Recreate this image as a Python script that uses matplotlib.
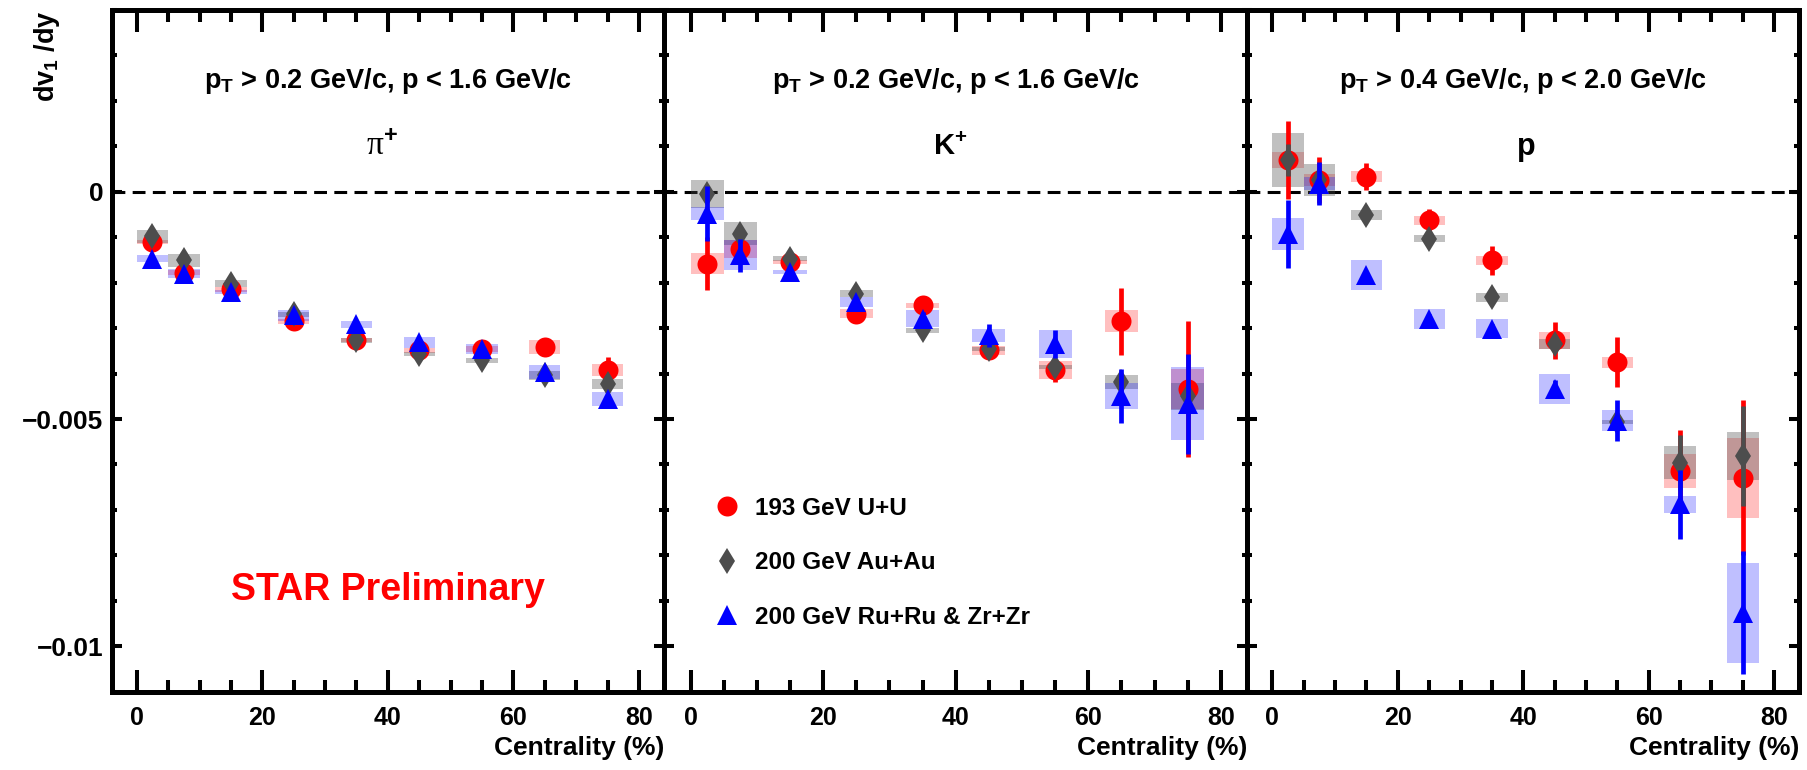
import numpy as np
import matplotlib
matplotlib.use("Agg")
import matplotlib.pyplot as plt
from matplotlib.lines import Line2D
from matplotlib.ticker import MultipleLocator, FixedLocator, FuncFormatter

plt.rcParams['font.family'] = ['Liberation Sans', 'DejaVu Sans']
plt.rcParams['font.weight'] = 'bold'
plt.rcParams['mathtext.fontset'] = 'custom'
plt.rcParams['mathtext.rm'] = 'Liberation Sans:bold'
plt.rcParams['mathtext.bf'] = 'Liberation Sans:bold'
plt.rcParams['mathtext.it'] = 'Liberation Sans:bold:italic'

# ---- data (dv1/dy in units of 1e-3) ----
SCALE = 1e-3
centrality = [2.5, 7.5, 15, 25, 35, 45, 55, 65, 75]

# pi+
pi_uu = [-1.10, -1.78, -2.15, -2.85, -3.26, -3.49, -3.46, -3.42, -3.93]
pi_uu_stat = [0.05, 0.05, 0.05, 0.05, 0.06, 0.06, 0.08, 0.10, 0.30]
pi_uu_sys = [0.05, 0.05, 0.05, 0.05, 0.05, 0.05, 0.06, 0.16, 0.13]
pi_auau = [-0.98, -1.51, -2.02, -2.70, -3.27, -3.57, -3.71, -4.04, -4.23]
pi_auau_stat = [0.05, 0.05, 0.05, 0.05, 0.05, 0.05, 0.05, 0.05, 0.08]
pi_auau_sys = [0.15, 0.15, 0.08, 0.05, 0.05, 0.05, 0.05, 0.10, 0.12]
pi_iso = [-1.47, -1.80, -2.21, -2.72, -2.92, -3.31, -3.46, -3.97, -4.56]
pi_iso_stat = [0.05, 0.05, 0.05, 0.05, 0.05, 0.05, 0.05, 0.05, 0.12]
pi_iso_sys = [0.07, 0.10, 0.05, 0.12, 0.07, 0.12, 0.12, 0.15, 0.15]

# K+
k_uu = [-1.58, -1.25, -1.54, -2.68, -2.50, -3.49, -3.93, -2.85, -4.34]
k_uu_stat = [0.59, 0.20, 0.10, 0.12, 0.15, 0.20, 0.25, 0.74, 1.50]
k_uu_sys = [0.24, 0.20, 0.05, 0.10, 0.05, 0.10, 0.20, 0.24, 0.45]
k_auau = [-0.04, -0.92, -1.47, -2.24, -3.05, -3.46, -3.86, -4.19, -4.50]
k_auau_stat = [0.10, 0.10, 0.05, 0.05, 0.05, 0.05, 0.05, 0.15, 0.30]
k_auau_sys = [0.31, 0.25, 0.06, 0.08, 0.05, 0.05, 0.05, 0.15, 0.30]
k_iso = [-0.48, -1.40, -1.76, -2.43, -2.79, -3.16, -3.35, -4.49, -4.66]
k_iso_stat = [0.60, 0.37, 0.10, 0.12, 0.15, 0.25, 0.30, 0.60, 1.10]
k_iso_sys = [0.15, 0.33, 0.05, 0.11, 0.18, 0.15, 0.31, 0.28, 0.80]

# proton
p_uu = [0.70, 0.26, 0.33, -0.63, -1.51, -3.27, -3.75, -6.14, -6.29]
p_uu_stat = [0.85, 0.50, 0.30, 0.25, 0.32, 0.40, 0.55, 0.90, 1.70]
p_uu_sys = [0.17, 0.13, 0.12, 0.10, 0.10, 0.19, 0.12, 0.37, 0.88]
p_auau = [0.70, 0.26, -0.51, -1.03, -2.32, -3.35, -5.07, -5.96, -5.81]
p_auau_stat = [0.35, 0.15, 0.10, 0.10, 0.10, 0.12, 0.15, 0.60, 1.10]
p_auau_sys = [0.60, 0.35, 0.12, 0.07, 0.10, 0.12, 0.05, 0.37, 0.53]
p_iso = [-0.92, 0.18, -1.84, -2.79, -3.01, -4.34, -5.04, -6.88, -9.26]
p_iso_stat = [0.75, 0.48, 0.10, 0.10, 0.10, 0.20, 0.45, 0.75, 1.36]
p_iso_sys = [0.35, 0.15, 0.33, 0.22, 0.20, 0.33, 0.23, 0.18, 1.10]

systems = ["193 GeV U+U", "200 GeV Au+Au", "200 GeV Ru+Ru & Zr+Zr"]
cuts = [r"p$_\mathrm{T}$ > 0.2 GeV/c, p < 1.6 GeV/c",
        r"p$_\mathrm{T}$ > 0.2 GeV/c, p < 1.6 GeV/c",
        r"p$_\mathrm{T}$ > 0.4 GeV/c, p < 2.0 GeV/c"]
x_ticks = [0, 20, 40, 60, 80]

RED, GRAY, BLUE = "#ff0000", "#4d4d4d", "#0000ff"
styles = [  # marker, size, color, box alpha
    ("o", 14.4, RED, 0.25),
    ("d", 13.6, GRAY, 0.35),
    ("^", 14.4, BLUE, 0.25),
]

panels = [
    ([(pi_uu, pi_uu_stat, pi_uu_sys), (pi_auau, pi_auau_stat, pi_auau_sys),
      (pi_iso, pi_iso_stat, pi_iso_sys)], "pi"),
    ([(k_uu, k_uu_stat, k_uu_sys), (k_auau, k_auau_stat, k_auau_sys),
      (k_iso, k_iso_stat, k_iso_sys)], "K"),
    ([(p_uu, p_uu_stat, p_uu_sys), (p_auau, p_auau_stat, p_auau_sys),
      (p_iso, p_iso_stat, p_iso_sys)], "p"),
]

W, H = 1808, 770
fig = plt.figure(figsize=(W / 100, H / 100), dpi=100)
bottom, height = 78.3 / H, 681.7 / H
rects = [(111.7, 552.3), (664.0, 583.3), (1247.3, 552.0)]
axes = [fig.add_axes([l / W, bottom, w / W, height]) for l, w in rects]


def fmt_y(v, pos):
    if abs(v) < 1e-12:
        return "0"
    return ("%g" % v).replace("-", "\u2212")


for i, (ax, (series, name)) in enumerate(zip(axes, panels)):
    ax.axhline(0, color="black", lw=2.2, ls=(0, (4.2, 2.4)), zorder=0.5)
    for j, ((vals, stat, sys), (mk, ms, col, a)) in enumerate(zip(series, styles)):
        y = np.asarray(vals) * SCALE
        st = np.asarray(stat) * SCALE
        sy = np.asarray(sys) * SCALE
        ax.bar(centrality, 2 * sy, bottom=y - sy, width=5.0, color=col,
               alpha=a, linewidth=0, zorder=1)
        ax.errorbar(centrality, y, yerr=st, fmt=mk, ms=ms, color=col, mew=0,
                    elinewidth=3.4, capsize=0, zorder=2 + j)

    ax.set_xlim(-4, 84)
    ax.set_ylim(-0.011, 0.004)
    ax.xaxis.set_major_locator(FixedLocator(x_ticks))
    ax.xaxis.set_minor_locator(MultipleLocator(5))
    ax.yaxis.set_major_locator(MultipleLocator(0.005))
    ax.yaxis.set_minor_locator(MultipleLocator(0.001))
    ax.yaxis.set_major_formatter(FuncFormatter(fmt_y))
    ax.tick_params(which="both", direction="in", top=True, right=True,
                   width=2.9, labelsize=18, color="black")
    ax.tick_params(axis="x", which="major", length=16, pad=10)
    ax.tick_params(axis="x", which="minor", length=8.5)
    ax.tick_params(axis="y", which="major", length=7.5, pad=6, labelsize=19)
    ax.tick_params(axis="y", which="minor", length=3.5)
    if i > 0:
        ax.tick_params(axis="y", labelleft=False)
    for sp in ax.spines.values():
        sp.set_linewidth(3.6)
    for lab in ax.get_xticklabels() + ax.get_yticklabels():
        lab.set_fontweight("bold")

    ax.text(1.0, -0.083, "Centrality (%)", transform=ax.transAxes,
            ha="right", va="center", fontsize=19, fontweight="bold")
    ax.text(0.5, 0.8856, cuts[i], transform=ax.transAxes, ha="center",
            va="baseline", fontsize=19.5, fontweight="bold")

axes[0].text(0.49, 0.787, "\u03c0$^{+}$", transform=axes[0].transAxes,
             ha="center", va="baseline", fontsize=24,
             family=["Liberation Serif", "DejaVu Serif"], fontweight="normal")
axes[1].text(0.49, 0.787, "K$^{+}$", transform=axes[1].transAxes,
             ha="center", va="baseline", fontsize=21, fontweight="bold")
axes[2].text(0.505, 0.787, "p", transform=axes[2].transAxes,
             ha="center", va="baseline", fontsize=22, fontweight="bold")

axes[0].text(0.501, 0.149, "STAR Preliminary", transform=axes[0].transAxes,
             ha="center", va="center", fontsize=27, fontweight="bold",
             color=RED)

fig.text(47 / W, 1 - 56 / H, r"dv$_{1}$ /dy", rotation=90, ha="center",
         va="center", fontsize=19.5, fontweight="bold")

handles = [Line2D([], [], marker=mk, ms=ms, color=col, mew=0, ls="none")
           for mk, ms, col, a in styles]
axes[1].legend(handles, systems, loc="center left",
               bbox_to_anchor=(715 / W, 1 - 562.7 / H),
               bbox_transform=fig.transFigure, frameon=False,
               handlelength=1.0, handletextpad=0.64, labelspacing=1.3,
               borderpad=0, borderaxespad=0,
               prop={"weight": "bold", "size": 17.5})

fig.savefig("out.png", dpi=100)
